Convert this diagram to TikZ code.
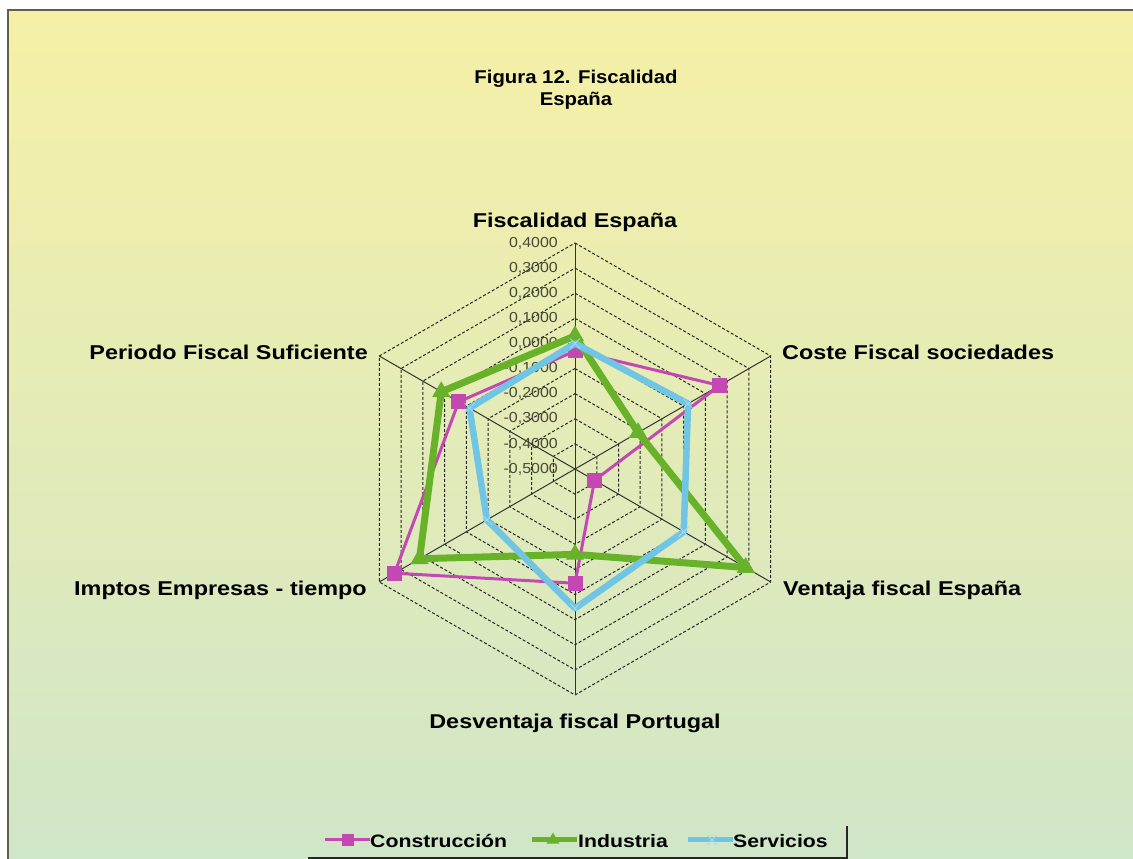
\documentclass[tikz,border=0pt]{standalone}
\usepackage{fontspec}
\setmainfont{Liberation Sans}
\usetikzlibrary{positioning}
\usetikzlibrary{shapes.geometric}
\usetikzlibrary{shapes.misc}

\definecolor{constr}{RGB}{196,72,178}
\definecolor{indus}{RGB}{104,178,42}
\definecolor{servi}{RGB}{112,196,228}
\definecolor{bgtop}{RGB}{246,240,166}
\definecolor{bgbot}{RGB}{208,230,200}
\definecolor{framecol}{RGB}{95,95,75}
\definecolor{tickcol}{RGB}{72,72,55}

\tikzset{
  axislabel/.style={font=\fontsize{20}{24}\selectfont\bfseries, inner sep=0pt, xscale=1.17},
  titletext/.style={font=\fontsize{18.5}{22}\selectfont\bfseries, inner sep=0pt, xscale=1.1, align=center},
  ticklabel/.style={font=\fontsize{14.5}{16}\selectfont, text=tickcol, inner sep=0pt, xscale=1.1},
  legtext/.style={font=\fontsize{18}{21}\selectfont\bfseries, inner sep=0pt, xscale=1.18},
  ring/.style={dash pattern=on 3pt off 2pt, line width=1pt, black!85},
  spoke/.style={line width=1pt, black!80},
  sqmark/.style={rectangle, fill=constr, minimum size=15pt, inner sep=0pt},
  trimark/.style={regular polygon, regular polygon sides=3, fill=indus, minimum size=21pt, inner sep=0pt},
  xmark/.style={cross out, draw=servi!60!white, minimum size=9pt, inner sep=0pt, line width=0.8pt}
}

\begin{document}
\begin{tikzpicture}[x=1pt, y=1pt]
  \useasboundingbox (0,0) rectangle (1133,859);
  \fill[white] (0,0) rectangle (1133,859);

  % chart area with its frame
  \shade[top color=bgtop, bottom color=bgbot] (8,0) rectangle (1133,849);
  \draw[framecol, line width=2.5pt] (8,0) -- (8,849) -- (1133,849);

  % title
  \node[titletext, anchor=base] (title) at (576,753) {Figura 12. Fiscalidad\\España};

  \begin{scope}[shift={(575,390)}]
    % radius of the outer ring (0,4000), centre is -0,5000
    \def\radius{226}
    \coordinate (o) at (0,0);

    % rings
    \foreach \k in {1,...,9}
      {\pgfmathsetmacro\rr{\k*\radius/9}
       \draw[ring] (90:\rr) \foreach \a in {30,-30,-90,-150,150} {-- (\a:\rr)} -- cycle;}

    % spokes
    \foreach \a in {90,30,-30,-90,-150,150}
      {\draw[spoke] (o) -- (\a:\radius);}

    % scale labels
    \foreach \k/\t in {0/{-0,5000},1/{-0,4000},2/{-0,3000},3/{-0,2000},4/{-0,1000},
                       5/{0,0000},6/{0,1000},7/{0,2000},8/{0,3000},9/{0,4000}}
      {\node[ticklabel, anchor=east] (tk\k) at (-17,{\k*\radius/9}) {\t};}

    % series points
    \foreach \v [count=\i] in {-0.03,0.165,-0.41,-0.045,0.33,0.035}
      {\coordinate (c\i) at ({150-60*\i}:{(\v+0.5)*\radius/0.9});}
    \foreach \v [count=\i] in {0.03,-0.21,0.285,-0.16,0.215,0.115}
      {\coordinate (n\i) at ({150-60*\i}:{(\v+0.5)*\radius/0.9});}
    \foreach \v [count=\i] in {0.0,0.02,0.0,0.055,-0.095,-0.015}
      {\coordinate (s\i) at ({150-60*\i}:{(\v+0.5)*\radius/0.9});}

    \draw[constr, line width=3pt] (c1) -- (c2) -- (c3) -- (c4) -- (c5) -- (c6) -- cycle;
    \foreach \i in {1,...,6} {\node[sqmark] at (c\i) {};}

    \draw[indus, line width=7pt, line join=round] (n1) -- (n2) -- (n3) -- (n4) -- (n5) -- (n6) -- cycle;
    \foreach \i in {1,...,6} {\node[trimark] at (n\i) {};}

    \draw[servi, line width=6.5pt, line join=round] (s1) -- (s2) -- (s3) -- (s4) -- (s5) -- (s6) -- cycle;
    \foreach \i in {1,...,6} {\node[xmark] at (s\i) {};}
  \end{scope}

  % axis names
  \node[axislabel, anchor=base] (fisc) at (575,631) {Fiscalidad España};
  \node[axislabel, anchor=base west] (coste) at (782,499) {Coste Fiscal sociedades};
  \node[axislabel, anchor=base west] (venta) at (783,263) {Ventaja fiscal España};
  \node[axislabel, anchor=base] (desv) at (575,130) {Desventaja fiscal Portugal};
  \node[axislabel, anchor=base east] (impt) at (367,263) {Imptos Empresas - tiempo};
  \node[axislabel, anchor=base east] (peri) at (368,499) {Periodo Fiscal Suficiente};

  % legend
  \node[legtext, anchor=base west] (legc) at (370,11) {Construcción};
  \node[legtext, anchor=base west] (legi) at (578,11) {Industria};
  \node[legtext, anchor=base west] (legs) at (733,11) {Servicios};
  \coordinate (lc) at (325,19);
  \coordinate (li) at (532,19);
  \coordinate (ls) at (688,19);
  \draw[constr, line width=3pt] (lc) -- +(45,0);
  \node[sqmark, minimum size=12pt] at ([xshift=23pt]lc) {};
  \draw[indus, line width=5pt] (li) -- +(45,0);
  \node[trimark, minimum size=15pt] at ([xshift=21pt]li) {};
  \draw[servi, line width=5pt] (ls) -- +(45,0);
  \node[xmark] at ([xshift=24pt]ls) {};
  \draw[black!85, line width=2pt] (308,1) -- (847,1) -- (847,33);
\end{tikzpicture}
\end{document}
